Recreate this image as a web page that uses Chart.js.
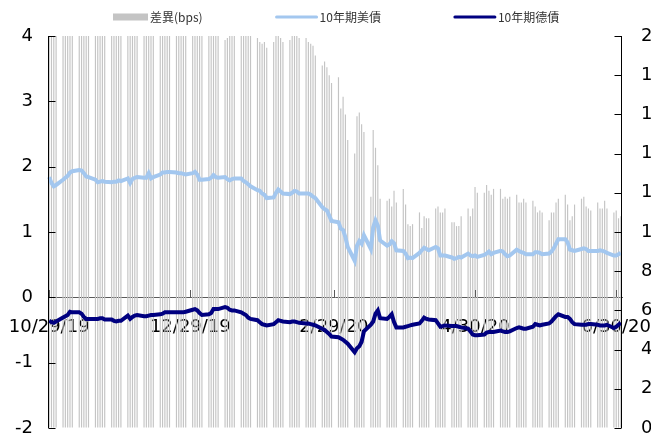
<!DOCTYPE html>
<html>
<head>
<meta charset="utf-8">
<script src="https://cdn.jsdelivr.net/npm/chart.js"></script>
<style>
  body { margin: 0; background: #fff; }
  canvas { display: block; }
</style>
</head>
<body>
<canvas id="spreadChart" width="651" height="434" style="width:651px;height:434px"></canvas>
<script>
// calendar range of the date axis (one category per calendar day, trading days only get values)
var firstDay = new Date(2019, 9, 29);
var lastDay = new Date(2020, 6, 2);

var tickLabels = ['10/29/19', '12/29/19', '2/29/20', '4/30/20', '6/30/20'];

// one value per trading day (Mon-Fri), 10/29/19 .. 7/2/20
var spreadBps = [
  219, 215, 209, 210,
  211, 212, 213, 213, 216,
  218, 219, 220, 218, 217,
  213, 209, 209, 210, 211,
  210, 213, 214, 215, 214,
  210, 208, 211, 211, 211,
  212, 212, 218, 209, 211,
  214, 216, 214, 215, 215,
  214, 213, 213, 212, 210,
  209, 210, 208, 204, 207,
  207, 207, 205, 202, 201,
  198, 199, 203, 205, 204,
  206, 205, 204, 203, 201,
  199, 197, 196, 197, 194,
  197, 200, 202, 199, 197,
  198, 200, 201, 200, 199,
  199, 197, 196, 195, 190,
  185, 187, 184, 180, 176,
  179, 163, 169, 160, 147,
  140, 159, 161, 155, 151,
  118, 152, 143, 134, 117,
  116, 117, 113, 121, 115,
  122, 114, 104, 103, 104,
  110, 102, 108, 107, 107,
  112, 113, 110, 110, 112,
  105, 105, 103, 103, 108,
  112, 108, 112, 123, 120,
  120, 124, 121, 119, 122,
  122, 117, 118, 117, 118,
  119, 115, 115, 117, 115,
  116, 113, 110, 111, 110,
  106, 110, 110, 115, 117,
  119, 114, 106, 108, 114,
  117, 118, 113, 112, 111,
  115, 112, 112, 116, 112,
  110, 111, 107, 108
];

var us10y = [
  1.84, 1.75, 1.70, 1.72,
  1.80, 1.83, 1.86, 1.91, 1.93,
  1.95, 1.94, 1.90, 1.85, 1.84,
  1.80, 1.76, 1.77, 1.78, 1.77,
  1.76, 1.77, 1.77, 1.79, 1.78,
  1.82, 1.75, 1.81, 1.83, 1.84,
  1.83, 1.83, 1.90, 1.82, 1.84,
  1.88, 1.91, 1.91, 1.92, 1.92,
  1.91, 1.90, 1.90, 1.89, 1.88,
  1.90, 1.92, 1.88, 1.80, 1.80,
  1.81, 1.83, 1.87, 1.84, 1.83,
  1.84, 1.81, 1.79, 1.81, 1.82,
  1.82, 1.78, 1.76, 1.73, 1.70,
  1.64, 1.63, 1.59, 1.57, 1.52,
  1.53, 1.60, 1.65, 1.62, 1.59,
  1.58, 1.60, 1.63, 1.62, 1.59,
  1.59, 1.59, 1.57, 1.54, 1.52,
  1.38, 1.35, 1.33, 1.25, 1.17,
  1.15, 1.05, 1.03, 0.92, 0.77,
  0.56, 0.79, 0.86, 0.82, 0.95,
  0.74, 1.07, 1.18, 1.10, 0.87,
  0.79, 0.81, 0.86, 0.83, 0.72,
  0.71, 0.67, 0.60, 0.61, 0.60,
  0.68, 0.72, 0.76, 0.74, 0.72,
  0.77, 0.75, 0.64, 0.64, 0.64,
  0.61, 0.59, 0.60, 0.62, 0.61,
  0.67, 0.64, 0.63, 0.64, 0.62,
  0.65, 0.67, 0.70, 0.66, 0.68,
  0.71, 0.70, 0.66, 0.63, 0.64,
  0.73, 0.71, 0.69, 0.68, 0.66,
  0.66, 0.69, 0.69, 0.68, 0.66,
  0.67, 0.70, 0.75, 0.82, 0.89,
  0.89, 0.84, 0.73, 0.72, 0.71,
  0.74, 0.75, 0.74, 0.71, 0.71,
  0.71, 0.72, 0.71, 0.70, 0.68,
  0.64, 0.64, 0.66, 0.68
];

var de10y = [
  -0.36, -0.38, -0.39, -0.37,
  -0.31, -0.29, -0.27, -0.22, -0.23,
  -0.23, -0.25, -0.30, -0.33, -0.33,
  -0.33, -0.33, -0.32, -0.32, -0.34,
  -0.34, -0.36, -0.37, -0.36, -0.36,
  -0.28, -0.33, -0.30, -0.28, -0.27,
  -0.29, -0.29, -0.28, -0.27, -0.27,
  -0.26, -0.25, -0.23, -0.23, -0.23,
  -0.23, -0.23, -0.23, -0.23, -0.22,
  -0.19, -0.18, -0.20, -0.24, -0.27,
  -0.26, -0.24, -0.18, -0.18, -0.18,
  -0.15, -0.16, -0.19, -0.20, -0.20,
  -0.23, -0.25, -0.27, -0.31, -0.33,
  -0.35, -0.38, -0.41, -0.42, -0.43,
  -0.41, -0.38, -0.35, -0.36, -0.37,
  -0.38, -0.37, -0.37, -0.38, -0.39,
  -0.40, -0.40, -0.41, -0.42, -0.43,
  -0.48, -0.50, -0.53, -0.56, -0.60,
  -0.61, -0.63, -0.65, -0.68, -0.71,
  -0.84, -0.78, -0.75, -0.68, -0.52,
  -0.42, -0.37, -0.25, -0.20, -0.32,
  -0.33, -0.30, -0.26, -0.38, -0.46,
  -0.46, -0.45, -0.44, -0.43, -0.42,
  -0.40, -0.36, -0.31, -0.33, -0.34,
  -0.35, -0.40, -0.45, -0.44, -0.43,
  -0.44, -0.44, -0.44, -0.45, -0.46,
  -0.48, -0.52, -0.57, -0.58, -0.58,
  -0.57, -0.54, -0.53, -0.53, -0.53,
  -0.51, -0.52, -0.53, -0.53, -0.52,
  -0.47, -0.46, -0.47, -0.48, -0.48,
  -0.45, -0.41, -0.42, -0.43, -0.42,
  -0.40, -0.37, -0.33, -0.29, -0.26,
  -0.30, -0.30, -0.33, -0.38, -0.41,
  -0.42, -0.42, -0.42, -0.41, -0.41,
  -0.42, -0.43, -0.43, -0.43, -0.42,
  -0.47, -0.45, -0.42, -0.39
];

// spread calendar days on the axis, weekends stay empty
var labels = [], barData = [], usData = [], deData = [];
var k = 0;
for (var d = new Date(firstDay); d <= lastDay; d.setDate(d.getDate() + 1)) {
  labels.push((d.getMonth() + 1) + '/' + d.getDate() + '/' + String(d.getFullYear()).slice(2));
  var wd = d.getDay();
  if (wd === 0 || wd === 6) {
    barData.push(null); usData.push(null); deData.push(null);
  } else {
    barData.push(spreadBps[k]); usData.push(us10y[k]); deData.push(de10y[k]);
    k++;
  }
}

// excel style axis lines and tick marks pointing into the plot
var innerTicks = {
  id: 'innerTicks',
  afterDraw: function(chart) {
    var ctx = chart.ctx, area = chart.chartArea;
    var yl = chart.scales.y, yr = chart.scales.y1, xs = chart.scales.x;
    var L = Math.round(area.left) + 0.5, R = Math.round(area.right) - 0.5;
    ctx.save();
    ctx.lineWidth = 1;
    ctx.strokeStyle = '#000';
    ctx.beginPath();
    ctx.moveTo(L, area.top); ctx.lineTo(L, area.bottom);
    ctx.moveTo(R, area.top); ctx.lineTo(R, area.bottom);
    yl.ticks.forEach(function(t) {
      var py = Math.round(yl.getPixelForValue(t.value)) + 0.5;
      ctx.moveTo(L, py); ctx.lineTo(L + 7, py);
    });
    yr.ticks.forEach(function(t) {
      var py = Math.round(yr.getPixelForValue(t.value)) + 0.5;
      ctx.moveTo(R - 7, py); ctx.lineTo(R, py);
    });
    ctx.stroke();
    ctx.strokeStyle = '#595959';
    ctx.beginPath();
    var y0 = Math.round(yl.getPixelForValue(0));
    tickLabels.forEach(function(l) {
      var px = Math.round(xs.getPixelForValue(labels.indexOf(l))) + 0.5;
      ctx.moveTo(px, y0 - 7); ctx.lineTo(px, y0);
    });
    ctx.stroke();
    ctx.restore();
  }
};

// legend row across the top
var topLegend = {
  id: 'topLegend',
  afterDraw: function(chart) {
    var ctx = chart.ctx;
    var x = 113, cy = 17;
    ctx.save();
    ctx.font = '12px "Noto Sans CJK TC"';
    ctx.textBaseline = 'middle';
    chart.data.datasets.forEach(function(ds) {
      if (ds.type === 'bar') {
        ctx.fillStyle = ds.backgroundColor;
        ctx.fillRect(x, cy - 3.5, 35, 7);
        x += 35;
      } else {
        ctx.strokeStyle = ds.borderColor;
        ctx.lineWidth = 3;
        ctx.lineCap = 'round';
        ctx.beginPath();
        ctx.moveTo(x + 1, cy); ctx.lineTo(x + 41, cy);
        ctx.stroke();
        x += 42;
      }
      ctx.fillStyle = '#333';
      ctx.fillText(ds.label, x + 2, cy);
      x += 2 + ctx.measureText(ds.label).width + 73;
    });
    ctx.restore();
  }
};

var tickFont = { family: 'DejaVu Sans', size: 18 };

var ctx = document.getElementById('spreadChart');
var chart = new Chart(ctx, {
  data: {
    labels: labels,
    datasets: [
      {
        type: 'bar',
        label: '差異(bps)',
        data: barData,
        yAxisID: 'y1',
        backgroundColor: '#c4c4c4',
        barPercentage: 0.5,
        categoryPercentage: 1,
        order: 3
      },
      {
        type: 'line',
        label: '10年期美債',
        data: usData,
        yAxisID: 'y',
        borderColor: '#a3c7ef',
        borderWidth: 4,
        pointRadius: 0,
        tension: 0,
        spanGaps: true,
        order: 2
      },
      {
        type: 'line',
        label: '10年期德債',
        data: deData,
        yAxisID: 'y',
        borderColor: '#000080',
        borderWidth: 4,
        pointRadius: 0,
        tension: 0,
        spanGaps: true,
        order: 1
      }
    ]
  },
  options: {
    responsive: false,
    animation: false,
    devicePixelRatio: 1,
    layout: { padding: { top: 36, bottom: 6, left: 0, right: 0 } },
    plugins: {
      legend: { display: false },
      tooltip: { enabled: false }
    },
    scales: {
      x: {
        type: 'category',
        offset: true,
        position: { y: 0 },
        z: 1,
        grid: { display: true, drawOnChartArea: false, drawTicks: false },
        border: { display: true, color: '#595959', width: 1 },
        ticks: {
          autoSkip: false,
          maxRotation: 0,
          minRotation: 0,
          padding: 19,
          color: '#000',
          font: tickFont,
          callback: function(v) {
            var l = this.getLabelForValue(v);
            return tickLabels.indexOf(l) >= 0 ? l : null;
          }
        },
        afterFit: function(s) { s.paddingLeft = 0; s.paddingRight = 0; }
      },
      y: {
        position: 'left',
        min: -2,
        max: 4,
        grid: { display: true, drawOnChartArea: false, drawTicks: false },
        border: { display: false },
        ticks: { stepSize: 1, padding: 15, color: '#000', font: tickFont },
        afterFit: function(s) { s.width = 48; s.paddingTop = 0; s.paddingBottom = 0; }
      },
      y1: {
        position: 'right',
        min: 0,
        max: 200,
        grid: { display: true, drawOnChartArea: false, drawTicks: false },
        border: { display: false },
        ticks: { stepSize: 20, padding: 19, color: '#000', font: tickFont },
        afterFit: function(s) { s.width = 29; s.paddingTop = 0; s.paddingBottom = 0; }
      }
    }
  },
  plugins: [innerTicks, topLegend]
});
</script>
</body>
</html>
